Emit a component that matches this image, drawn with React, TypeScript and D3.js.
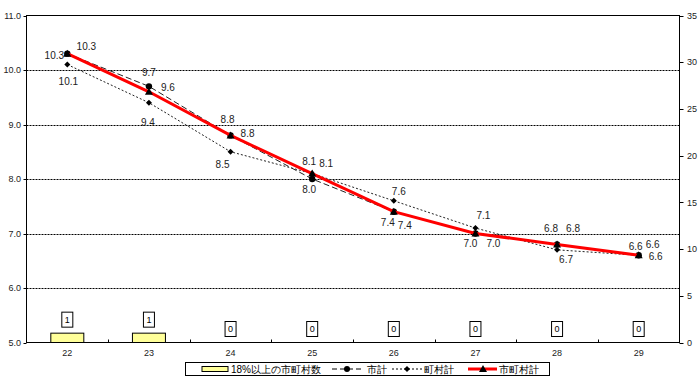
import React from "react";
import * as d3 from "d3";

const categories = ["22", "23", "24", "25", "26", "27", "28", "29"];
const cityTotal = [10.3, 9.7, 8.8, 8.0, 7.4, 7.0, 6.8, 6.6];
const townTotal = [10.1, 9.4, 8.5, 8.1, 7.6, 7.1, 6.7, 6.6];
const allTotal = [10.3, 9.6, 8.8, 8.1, 7.4, 7.0, 6.8, 6.6];
const countOver18 = [1, 1, 0, 0, 0, 0, 0, 0];
const leftTicks = [5.0, 6.0, 7.0, 8.0, 9.0, 10.0, 11.0];
const rightTicks = [0, 5, 10, 15, 20, 25, 30, 35];
const legendLabels = ["18%以上の市町村数", "市計", "町村計", "市町村計"];

// label offsets (presentation only)
const cityOff = [[-13, 2], [0, -14], [-3, -16], [-3, 10.5], [-6, 11], [-5, 10], [-6, -16], [-3, -9]];
const townOff = [[1, 17], [-1, 20], [-8, 13], [-3, -12], [5, -9], [8, -13], [9, 10], [14, -11]];
const allOff = [[19, -7], [19, -4], [17, -2], [14, -10], [11, 14], [18, 10], [16, -16], [17, 1]];

const W = 700, H = 382;
const L = 26.5, R = 679.5, T = 15.5, B = 342.5;
const FONT = "'Liberation Sans', Arial, sans-serif";

export default function App() {
  const x = d3.scaleBand<string>().domain(categories).range([L, R]).padding(0);
  const y = d3.scaleLinear().domain([5, 11]).range([B, T]);
  const y2 = d3.scaleLinear().domain([0, 35]).range([B, T]);
  const cx = (i: number) => (x(categories[i]) as number) + x.bandwidth() / 2;
  const line = (vals: number[]) =>
    d3.line<number>().x((_, i) => cx(i)).y((v) => y(v))(vals) as string;
  const barW = 33;
  const fmt = d3.format(".1f");

  return (
    <svg width={W} height={H} style={{ position: "absolute", left: 0, top: 0, background: "#fff" }} fontFamily={FONT}>
      <rect x={0} y={0} width={W} height={H} fill="#fff" />
      {/* gridlines */}
      {leftTicks.slice(1, -1).map((t) => (
        <line key={t} x1={L} x2={R} y1={Math.round(y(t)) + 0.5} y2={Math.round(y(t)) + 0.5} stroke="#000" strokeWidth={1} strokeDasharray="2,1" />
      ))}
      {/* plot frame */}
      <rect x={L} y={T} width={R - L} height={B - T} fill="none" stroke="#000" strokeWidth={1} />
      {/* left ticks & labels */}
      {leftTicks.map((t) => (
        <g key={t}>
          <line x1={L - 3} x2={L} y1={Math.round(y(t)) + 0.5} y2={Math.round(y(t)) + 0.5} stroke="#000" />
          <text x={21} y={y(t)} dy="0.35em" textAnchor="end" fontSize={9} fill="#222">{fmt(t)}</text>
        </g>
      ))}
      {/* right ticks & labels */}
      {rightTicks.map((t) => (
        <g key={t}>
          <line x1={R} x2={R + 4} y1={Math.round(y2(t)) + 0.5} y2={Math.round(y2(t)) + 0.5} stroke="#000" />
          <text x={687} y={y2(t)} dy="0.35em" textAnchor="start" fontSize={9} fill="#222">{t}</text>
        </g>
      ))}
      {/* x ticks (inward at boundaries) */}
      {categories.slice(1).map((c) => (
        <line key={c} x1={Math.round(x(c) as number) + 0.5} x2={Math.round(x(c) as number) + 0.5} y1={B} y2={B - 3} stroke="#000" />
      ))}
      {categories.map((c, i) => (
        <text key={c} x={cx(i)} y={353} dy="0.35em" textAnchor="middle" fontSize={9} fill="#222">{c}</text>
      ))}
      {/* bars */}
      {countOver18.map((v, i) => (
        <g key={i}>
          {v > 0 && (
            <rect x={cx(i) - barW / 2} y={y2(v)} width={barW} height={B - y2(v)} fill="#FFFF99" stroke="#000" strokeWidth={1} />
          )}
          <rect x={cx(i) - 5.5} y={y2(v) - 21} width={11} height={15} fill="#fff" stroke="#000" strokeWidth={1} />
          <text x={cx(i)} y={y2(v) - 13.5} dy="0.35em" textAnchor="middle" fontSize={9} fill="#000">{v}</text>
        </g>
      ))}
      {/* 町村計 dotted */}
      <path d={line(townTotal)} fill="none" stroke="#222" strokeWidth={1} strokeDasharray="2,2" />
      {townTotal.map((v, i) => (
        <path key={i} d={`M${cx(i)},${y(v) - 3}L${cx(i) + 3},${y(v)}L${cx(i)},${y(v) + 3}L${cx(i) - 3},${y(v)}Z`} fill="#000" />
      ))}
      {/* 市計 dashed */}
      <path d={line(cityTotal)} fill="none" stroke="#222" strokeWidth={1} strokeDasharray="6,3" />
      {cityTotal.map((v, i) => (
        <circle key={i} cx={cx(i)} cy={y(v)} r={3.2} fill="#000" />
      ))}
      {/* 市町村計 red */}
      <path d={line(allTotal)} fill="none" stroke="#FF0000" strokeWidth={3} />
      {allTotal.map((v, i) => (
        <path key={i} d={`M${cx(i)},${y(v) - 4}L${cx(i) + 4},${y(v) + 3}L${cx(i) - 4},${y(v) + 3}Z`} fill="#000" />
      ))}
      {/* labels */}
      {cityTotal.map((v, i) => (
        <text key={"c" + i} x={cx(i) + cityOff[i][0]} y={y(v) + cityOff[i][1]} dy="0.35em" textAnchor="middle" fontSize={10} fill="#222">{fmt(v)}</text>
      ))}
      {townTotal.map((v, i) => (
        <text key={"t" + i} x={cx(i) + townOff[i][0]} y={y(v) + townOff[i][1]} dy="0.35em" textAnchor="middle" fontSize={10} fill="#222">{fmt(v)}</text>
      ))}
      {allTotal.map((v, i) => (
        <text key={"a" + i} x={cx(i) + allOff[i][0]} y={y(v) + allOff[i][1]} dy="0.35em" textAnchor="middle" fontSize={10} fill="#222">{fmt(v)}</text>
      ))}
      {/* legend */}
      <g>
        <rect x={185.5} y={362.5} width={364} height={13} fill="#fff" stroke="#000" strokeWidth={1} />
        <rect x={202} y={366.5} width={26} height={5} fill="#FFFF99" stroke="#000" strokeWidth={1} />
        <text x={231} y={369} dy="0.35em" fontSize={10} fill="#000">{legendLabels[0]}</text>
        <line x1={332} x2={361} y1={369} y2={369} stroke="#000" strokeDasharray="5,3" />
        <circle cx={347} cy={369} r={3} fill="#000" />
        <text x={367} y={369} dy="0.35em" fontSize={10} fill="#000">{legendLabels[1]}</text>
        <line x1={392} x2={422} y1={369} y2={369} stroke="#000" strokeDasharray="2,2" />
        <path d="M407,366L410,369L407,372L404,369Z" fill="#000" />
        <text x={424} y={369} dy="0.35em" fontSize={10} fill="#000">{legendLabels[2]}</text>
        <line x1={468} x2={497} y1={369} y2={369} stroke="#FF0000" strokeWidth={3} />
        <path d="M483,365L487,372L479,372Z" fill="#000" />
        <text x={499} y={369} dy="0.35em" fontSize={10} fill="#000">{legendLabels[3]}</text>
      </g>
    </svg>
  );
}
